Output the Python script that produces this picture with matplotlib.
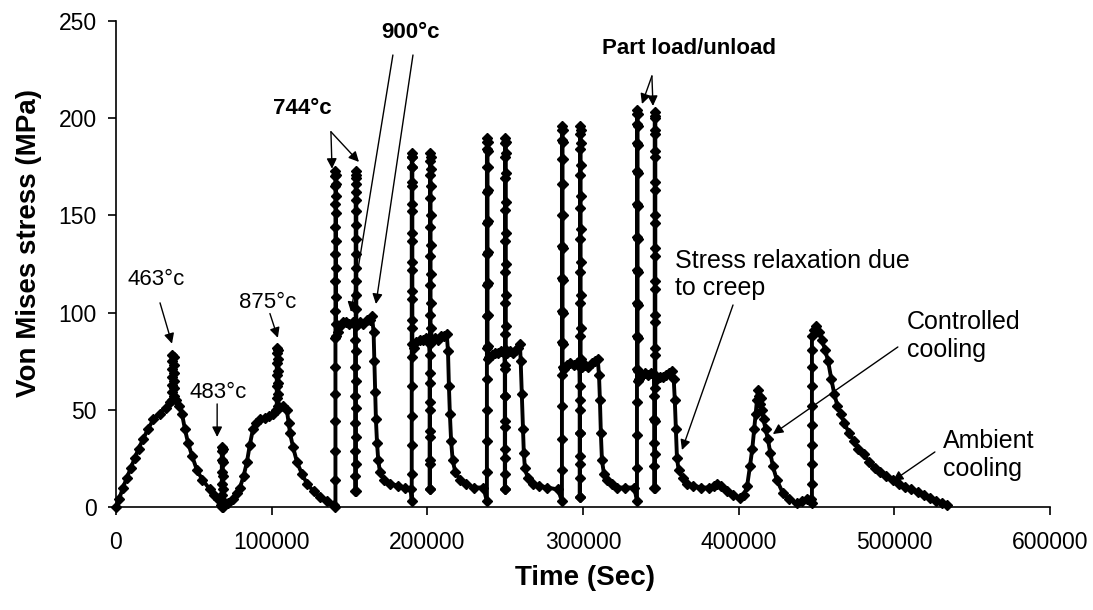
import numpy as np
import matplotlib
matplotlib.use("Agg")
import matplotlib.pyplot as plt

plt.rcParams['font.family'] = ['Liberation Sans', 'DejaVu Sans']

# Each segment is (time, stresses): a single time means a vertical load/unload leg,
# a list of times means an ordinary stretch of the curve.

# heat-up with the 463, 483 and 875 degC holds
warmup = [
    ([0, 2000, 4500, 7000, 9500, 12000, 14500, 17500, 20500, 24000, 28000, 32000, 35000],
     [0, 4, 10, 15, 20, 25, 30, 35, 40, 45, 48, 51, 54]),
    (36000, [55, 59, 63, 67, 71, 75, 78]),
    (37200, [77, 73, 69, 65, 61, 57]),
    ([38500, 40500, 42400, 44300, 46300, 49000, 52000, 55500, 60400, 63000, 65500, 67300],
     [55, 52, 48, 40, 33, 26, 19, 14, 9, 6, 4, 1]),
    (68000, [0, 6, 12, 18, 24, 29, 31]),
    (68600, [30, 23, 16, 9, 3, 0]),
    ([69500, 72000, 75000, 77500, 79700, 82000, 84100, 86000, 88000, 90000, 92500, 95500,
      98500, 101000, 102500],
     [1, 2, 4, 7, 10, 16, 23, 32, 40, 43, 45, 46, 47, 48, 50]),
    (103300, [50, 56, 62, 68, 74, 79, 82]),
    (104300, [81, 76, 70, 64, 58, 52]),
    ([107500, 109700, 111000, 111800, 113700, 116300, 119500, 122700, 127000, 131000, 135500, 140000],
     [52, 50, 43, 38, 31, 23, 17, 12, 8, 5, 3, 1]),
]

# 744 degC cycle
cycle1 = [
    (141000, [0, 14, 29, 44, 58, 72, 87, 101, 116, 130, 144, 156, 165, 170, 173]),
    (141400, [171, 166, 160, 151, 137, 123, 108, 94, 88]),
    ([142500, 144000, 146000, 148000, 150000, 152000, 153500], [90, 93, 95, 95, 94, 95, 94]),
    (153800, [86, 72, 57, 43, 29, 16, 8]),
    (154000, [8, 22, 36, 51, 65, 80, 94, 109, 123, 138, 152, 162, 169, 173]),
    (154400, [171, 166, 158, 145, 130, 116, 102, 93]),
    ([155500, 157000, 159000, 161000, 163000, 164500], [94, 95, 94, 96, 96, 98]),
    ([165500, 166000, 166500, 167000, 167700, 168500, 169600, 172000, 176000, 181000, 186000, 189500],
     [90, 75, 59, 45, 33, 24, 18, 14, 12, 11, 10, 9]),
]

cycle2 = [
    (190000, [3, 17, 32, 47, 62, 77, 92, 107, 122, 137, 152, 165, 175, 180, 182]),
    (190400, [180, 175, 167, 156, 141, 126, 111, 96, 84]),
    ([191500, 193000, 195000, 197000, 199000, 201000], [82, 85, 86, 86, 87, 86]),
    (201500, [78, 64, 50, 36, 22, 9]),
    (201700, [9, 24, 39, 54, 69, 84, 99, 114, 129, 144, 159, 171, 178, 182]),
    (202100, [180, 174, 165, 150, 135, 120, 105, 92]),
    ([203200, 205000, 207000, 209000, 211000, 212500], [86, 87, 86, 88, 88, 89]),
    ([213300, 213900, 214500, 215300, 216300, 218000, 221000, 225000, 230000, 236000],
     [80, 62, 48, 34, 24, 18, 14, 12, 10, 10]),
]

cycle3 = [
    (238300, [3, 18, 34, 50, 66, 82, 98, 114, 130, 146, 162, 175, 184, 188, 190]),
    (238700, [188, 183, 175, 163, 147, 131, 115, 99, 83, 76]),
    ([239800, 241500, 243500, 245500, 247500, 249500], [77, 78, 79, 79, 80, 79]),
    (249800, [71, 57, 44, 30, 17, 9]),
    (250000, [9, 25, 41, 57, 73, 89, 105, 121, 137, 153, 169, 180, 187, 190]),
    (250400, [188, 182, 172, 157, 141, 125, 109, 93, 81]),
    ([251500, 253000, 255000, 257000, 258500, 259500], [79, 80, 79, 81, 82, 84]),
    ([260000, 260700, 261400, 262000, 262700, 264500, 268000, 272000, 277000, 284000],
     [75, 58, 40, 28, 20, 15, 12, 11, 10, 9]),
]

cycle4 = [
    (286500, [3, 19, 35, 52, 68, 85, 101, 118, 134, 150, 166, 179, 189, 194, 196]),
    (286900, [194, 188, 179, 166, 150, 133, 117, 100, 84, 72]),
    ([288000, 290000, 292000, 294000, 296000, 297700], [71, 73, 74, 73, 74, 73]),
    (297900, [62, 50, 38, 26, 15, 5]),
    (298100, [5, 22, 38, 55, 72, 88, 105, 121, 138, 154, 171, 184, 192, 196]),
    (298500, [194, 187, 176, 160, 143, 126, 109, 92, 76]),
    ([299500, 301500, 303500, 305500, 307500, 309500], [72, 73, 72, 74, 75, 76]),
    ([310300, 310900, 311500, 312200, 313500, 315500, 318500, 322000, 327000, 333000],
     [68, 55, 38, 24, 17, 14, 12, 10, 10, 10]),
]

# part load/unload cycle
cycle5 = [
    (334700, [3, 20, 37, 54, 71, 88, 105, 122, 139, 156, 173, 187, 197, 202, 204]),
    (335100, [202, 196, 186, 172, 155, 138, 121, 104, 87, 70, 65]),
    ([336200, 338000, 340000, 342000, 344000, 345700], [66, 68, 69, 68, 69, 68]),
    (345900, [57, 45, 33, 21, 10]),
    (346100, [10, 27, 44, 61, 78, 95, 112, 129, 146, 163, 180, 192, 200, 203]),
    (346500, [201, 194, 183, 167, 150, 133, 116, 99, 82, 68]),
    ([347500, 349500, 351500, 353500, 355500, 357500], [66, 67, 67, 68, 69, 70]),
    ([358300, 359000, 359700, 360400, 361500, 364000, 367000, 371000, 376000, 381000],
     [66, 55, 40, 25, 19, 15, 12, 11, 10, 10]),
]

# controlled then ambient cooling
cooling = [
    ([384000, 386000, 389000, 392500, 396500, 400800, 403500, 405500, 407300, 408800, 410000,
      411000, 411800, 412400, 413000, 413600, 414200, 415000, 416000, 417300, 418800, 420300,
      422000, 424500, 428500, 432500, 437400, 441000, 444000, 446800],
     [11, 12, 11, 8, 6, 4.5, 6, 11, 21, 30, 40, 48, 55, 60, 57, 53, 56, 50, 45, 40, 35, 28,
      21, 14, 7, 4, 2, 3, 4, 4]),
    (447100, [2, 12, 22, 32, 42, 52, 62, 72, 81, 88]),
    ([448300, 449800, 451500, 453500, 455500, 457500, 459500, 461500, 463500, 465500, 468000,
      471000, 474000, 477000, 480500, 484000, 487500, 491000, 495000, 499000, 503000, 507000,
      511000, 515000, 519000, 523000, 527000, 530500, 534000],
     [91, 93, 90, 86, 81, 75, 66, 58, 52, 48, 43, 38, 34, 30, 27, 23, 20, 18, 16, 14, 12,
      10.5, 9, 7.5, 6, 4.5, 3, 2, 1]),
]

x_ticks = [0, 100000, 200000, 300000, 400000, 500000, 600000]
y_ticks = [0, 50, 100, 150, 200, 250]


def flatten(segments):
    t, s = [], []
    for when, stress in segments:
        if np.isscalar(when):
            when = [when] * len(stress)
        t += list(when)
        s += list(stress)
    return t, s


time, stress = flatten(warmup + cycle1 + cycle2 + cycle3 + cycle4 + cycle5 + cooling)

fig = plt.figure(figsize=(10.93, 6.10), dpi=100)
ax = fig.add_axes([0.1061, 0.1689, 0.8545, 0.7967])

ax.plot(time, stress, color='black', lw=2.8, marker='D', markersize=5,
        markerfacecolor='black', markeredgecolor='black', zorder=3, clip_on=False)

ax.set_xlim(0, 600000)
ax.set_ylim(0, 250)
ax.set_xticks(x_ticks)
ax.set_yticks(y_ticks)
ax.tick_params(axis='both', direction='out', length=6, width=1.2, labelsize=16.5)
ax.tick_params(axis='x', pad=11)
ax.tick_params(axis='y', pad=8)
for side in ('top', 'right'):
    ax.spines[side].set_visible(False)
for side in ('left', 'bottom'):
    ax.spines[side].set_linewidth(1.2)

ax.set_xlabel('Time (Sec)', fontsize=20, fontweight='bold', va='center')
ax.xaxis.set_label_coords(0.502, -0.146)
ax.set_ylabel('Von Mises stress (MPa)', fontsize=20, fontweight='bold', va='center')
ax.yaxis.set_label_coords(-0.093, 0.543)

arrow = dict(arrowstyle='-|>', color='black', lw=1.0, mutation_scale=15,
             shrinkA=0, shrinkB=0)


def pointer(start, tip):
    ax.annotate('', xy=tip, xytext=start, arrowprops=arrow, zorder=4)


ax.text(25700, 117, '463°c', fontsize=16, ha='center', va='center')
pointer((28300, 105), (36000, 84))

ax.text(65500, 59, '483°c', fontsize=16, ha='center', va='center')
pointer((65000, 53), (65000, 36))

ax.text(97600, 105, '875°c', fontsize=16, ha='center', va='center')
pointer((98900, 99.5), (104000, 87))

ax.text(119500, 205, '744°c', fontsize=16, fontweight='bold', ha='center', va='center')
pointer((138100, 193), (138800, 174))
pointer((138100, 193), (156100, 177.5))

ax.text(188900, 244, '900°c', fontsize=16, fontweight='bold', ha='center', va='center')
pointer((177900, 232.5), (151000, 100.3))
pointer((190800, 232.5), (167000, 104.4))

ax.text(368100, 236, 'Part load/unload', fontsize=16, fontweight='bold', ha='center', va='center')
pointer((344300, 221.7), (337900, 207.3))
pointer((344300, 221.7), (345000, 206.3))

ax.text(359100, 119.6, 'Stress relaxation due\nto creep', fontsize=18, ha='left', va='center')
pointer((396400, 103.9), (363600, 29.3))

ax.text(508100, 88, 'Controlled\ncooling', fontsize=18, ha='left', va='center')
pointer((502300, 82.3), (422000, 37.5))

ax.text(531200, 26.7, 'Ambient\ncooling', fontsize=18, ha='left', va='center')
pointer((526100, 28.3), (499100, 13.4))

fig.savefig('out.png', dpi=100, facecolor='white')
